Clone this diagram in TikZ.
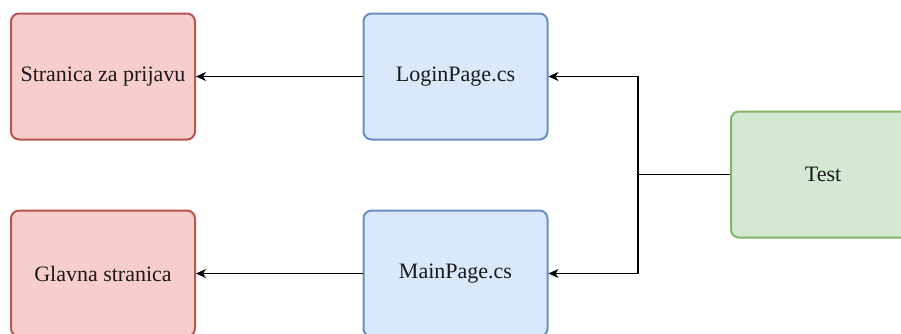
\documentclass[tikz,border=0pt]{standalone}
\usepackage{fontspec}
\setmainfont{Liberation Serif}
\usetikzlibrary{arrows.meta}
\definecolor{redfill}{HTML}{F8CECC}
\definecolor{redline}{HTML}{B85450}
\definecolor{bluefill}{HTML}{DAE8FC}
\definecolor{blueline}{HTML}{6C8EBF}
\definecolor{greenfill}{HTML}{D5E8D4}
\definecolor{greenline}{HTML}{82B366}
\begin{document}
\begin{tikzpicture}[x=1pt,y=-1pt,
  box/.style={rectangle, rounded corners=8pt, line width=2pt, minimum width=184pt, minimum height=126pt, inner sep=0pt, font=\fontsize{22}{26}\selectfont, text=black!90},
  redbox/.style={box, draw=redline, fill=redfill},
  bluebox/.style={box, draw=blueline, fill=bluefill},
  greenbox/.style={box, draw=greenline, fill=greenfill},
  conn/.style={line width=1.3pt, -{Stealth[length=10pt,width=9pt,inset=3pt]}}]
\useasboundingbox (0,0) rectangle (901,333);
\clip (0,0) rectangle (901,333);
\node[redbox] (sp) at (103,76.5) {Stranica za prijavu};
\node[redbox] (gs) at (103,273.5) {Glavna stranica};
\node[bluebox] (lp) at (455.5,76.5) {LoginPage.cs};
\node[bluebox] (mp) at (455.5,273.5) {MainPage.cs};
\node[greenbox] (t) at (823,174.5) {Test};
\coordinate (j) at (638,174.5);
\draw[conn] (lp.west) -- (sp.east);
\draw[conn] (mp.west) -- (gs.east);
\draw[conn] (t.west) -- (j) |- (lp.east);
\draw[conn] (t.west) -- (j) |- (mp.east);
\end{tikzpicture}
\end{document}
